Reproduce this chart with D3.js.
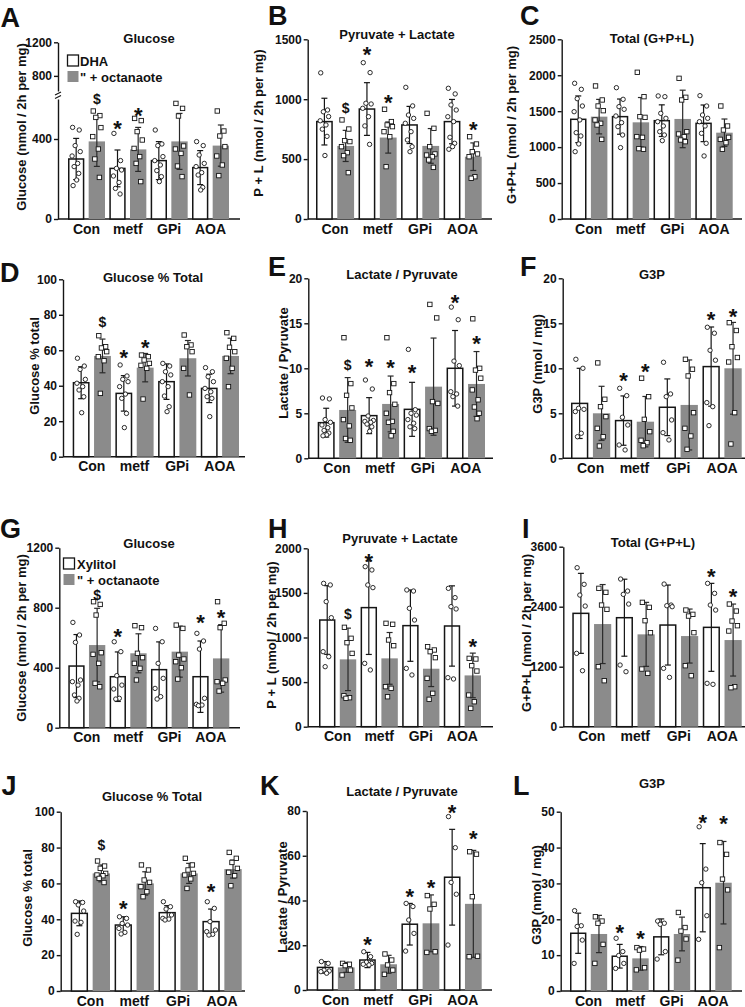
<!DOCTYPE html>
<html><head><meta charset="utf-8">
<script src="https://cdn.jsdelivr.net/npm/d3@7"></script>
<style>
body{margin:0;background:#fff;}
svg text{font-family:"Liberation Sans",Arial,sans-serif;font-weight:bold;fill:#111;}
.tick text{font-size:12px;}
</style></head><body>
<svg id="c" width="745" height="1007"></svg>
<script>
const categories = ["Con","metf","GPi","AOA"];
const legendA = ["DHA", "\" + octanaote"];
const legendG = ["Xylitol", "\" + octanaote"];

// ---- A: Glucose (DHA)
const A_ticks = [0,400,800,1200];
const A_wMean = [300,253,292,257], A_wSD = [103,92,95,85];
const A_gMean = [388,348,388,367], A_gSD = [125,110,140,103];
const A_wPts = [[458,445,367,337,315,278,262,228,195,167],[428,292,253,245,215,183,153,125],[445,375,367,312,292,270,242,212,187],[387,367,320,278,262,232,220,158,145]];
const A_gPts = [[540,517,508,457,412,350,300,208],[503,492,437,395,353,312,278,187],[578,553,515,365,350,328,265,212],[540,440,415,362,315,270,217]];
const A_marks = [["metf","w","*",473],["Con","g","$",600],["metf","g","*",540]];

// ---- B: Pyruvate + Lactate
const B_ticks = [0,500,1000,1500];
const B_wMean = [813,918,785,813], B_wSD = [195,220,155,185];
const B_gMean = [610,680,610,520], B_gSD = [130,130,145,115];
const B_wPts = [[1220,910,895,855,820,785,750,690,530],[1305,1222,966,960,924,854,777,623],[1099,944,868,840,799,729,660,604,562],[1091,1044,952,910,854,813,682,632,604,582]];
const B_gPts = [[827,751,654,646,604,554,529,387],[916,813,785,771,729,687,437],[882,757,604,543,534,520,493,431],[687,626,562,543,520,353,340]];
const B_marks = [["metf","w","*",1411],["Con","g","$",924],["metf","g","*",1007],["AOA","g","*",785]];

// ---- C: Total (G+P+L)
const C_ticks = [0,500,1000,1500,2000,2500];
const C_wMean = [1387,1424,1368,1331], C_wSD = [325,245,220,255];
const C_gMean = [1424,1345,1392,1201], C_gSD = [240,345,400,190];
const C_wPts = [[1888,1804,1674,1572,1493,1378,1201,1155,1044,937],[1827,1665,1563,1526,1433,1341,1285,1169,993],[1712,1702,1470,1401,1354,1294,1215,1169,1090],[1716,1572,1447,1401,1354,1294,1192,1053,877]];
const C_gPts = [[1851,1656,1572,1507,1378,1331,1308,1108],[2041,1702,1424,1414,1146,1136,979,970],[1957,1693,1656,1215,1183,1146,1099,1076],[1572,1294,1238,1136,1108,1062,970]];
const C_marks = [];

// ---- D: Glucose % Total
const D_ticks = [0,20,40,60,80,100];
const D_wMean = [41.7,35.7,42.3,38.5], D_wSD = [9,10,10,8];
const D_gMean = [56.8,50.2,55.5,56.8], D_gSD = [9.5,8,10,10];
const D_wPts = [[55.5,51.1,49.2,43.6,41.4,39.5,37.6,33.8,24.8],[51.7,45.5,43.6,42.3,39.5,35.3,32.9,24.4,16.4],[52.6,51.1,47.9,46.1,42.3,39.5,34.2,28.2,25.4],[50.2,47.9,45.1,42.3,38.5,36.6,33.8,32.9,22.6]];
const D_gPts = [[68.2,62.0,61.3,59.2,56.4,54.1,35.7],[57.3,56.4,54.5,52.6,51.5,49.8,32.5],[68.6,63.0,62.0,59.2,49.8,34.8],[69.9,66.7,61.7,59.2,55.5,49.8,39.5]];
const D_marks = [["metf","w","*",58.3],["Con","g","$",76.1],["metf","g","*",63.9]];

// ---- E: Lactate / Pyruvate
const E_ticks = [0,5,10,15,20];
const E_wMean = [3.96,4.74,5.44,10.0], E_wSD = [1.6,2.0,3.0,4.2];
const E_gMean = [5.37,6.04,7.96,8.26], E_gSD = [3.6,3.1,5.4,3.6];
const E_wPts = [[6.7,6.6,4.3,4.0,3.7,3.4,3.1,2.8,2.6,2.5],[8.7,7.7,4.7,4.2,4.1,4.0,3.8,3.5,3.0],[12.1,5.4,5.0,4.8,4.3,3.9,3.5,3.3],[16.8,15.4,10.8,10.3,7.4,7.15,6.85,5.8]];
const E_gPts = [[13.4,8.3,7.0,5.6,4.3,3.6,2.2,2.0],[13.4,8.3,7.3,6.0,5.0,4.1,4.0,3.0,2.5],[17.1,15.6,6.3,6.1,3.3,3.1,3.0],[15.5,10.0,9.8,8.9,7.6,6.5,5.7,5.0,4.4]];
const E_marks = [["metf","w","*",10.7],["GPi","w","*",10.0],["AOA","w","*",17.8],["Con","g","$",10.4],["metf","g","*",10.6],["AOA","g","*",13.3]];

// ---- F: G3P
const F_ticks = [0,5,10,15,20];
const F_wMean = [6.1,4.19,5.67,10.19], F_wSD = [3.9,2.74,3.15,4.4];
const F_gMean = [5.0,4.07,5.93,10.0], F_gSD = [3.0,2.8,5.0,5.1];
const F_wPts = [[11.0,10.0,5.56,5.44,5.19,2.78,2.4],[7.78,6.96,4.56,3.7,1.48,0.93],[10.67,7.15,6.85,4.26,2.85,2.04],[14.56,13.9,12.0,10.9,6.19,5.74,3.63]];
const F_gPts = [[10.6,6.56,5.74,4.63,3.33,2.4,1.37],[8.9,6.85,4.33,2.96,2.0,1.74,1.4],[11.0,9.9,9.15,5.07,3.33,2.48,1.0],[15.07,14.2,12.4,11.2,10.7,5.07,1.59]];
const F_marks = [["metf","w","*",9.1],["AOA","w","*",15.9],["metf","g","*",10.2],["AOA","g","*",16.3]];

// ---- G: Glucose (Xylitol)
const G_ticks = [0,400,800,1200];
const G_wMean = [411,340,387,340], G_wSD = [210,165,185,238];
const G_gMean = [551,496,507,462], G_gSD = [245,130,170,225];
const G_wPts = [[702,618,569,318,307,284,218,196,178],[573,507,347,284,258,196,191],[662,573,429,329,262,207,191],[629,578,524,196,156,151,147]];
const G_gPts = [[840,822,751,500,489,429,296,273],[680,667,496,467,429,396,318],[684,662,484,458,440,400,324],[840,696,667,318,307,296,244]];
const G_marks = [["metf","w","*",640],["AOA","w","*",729],["Con","g","$",885],["AOA","g","*",762]];

// ---- H: Pyruvate + Lactate
const H_ticks = [0,500,1000,1500,2000];
const H_wMean = [1196,1335,1133,1129], H_wSD = [385,525,400,450];
const H_gMean = [755,766,650,575], H_gSD = [350,290,200,250];
const H_wPts = [[1607,1589,1402,1222,841,785,673],[1794,1757,1589,1559,710,636],[1533,1521,1327,1196,654,580],[1551,1447,1346,1320,550,535]];
const H_gPts = [[1114,991,942,822,348,325,318],[1159,1148,972,908,449,430,336],[897,860,841,774,542,374,307],[766,759,684,624,355,280,206]];
const H_marks = [["metf","w","*",1907],["Con","g","$",1260],["AOA","g","*",953]];

// ---- I: Total (G+P+L)
const I_ticks = [0,1200,2400,3600];
const I_wMean = [2267,2180,2033,1987], I_wSD = [800,770,800,880];
const I_gMean = [2053,1847,1813,1733], I_gSD = [790,640,540,720];
const I_wPts = [[3180,2847,2633,2413,1467,1120],[2953,2713,2647,2453,1233,1100],[2853,2433,2420,2400,1167,987],[2867,2667,2433,2333,867,847]];
const I_gPts = [[2767,2687,2433,2347,1200,920],[2487,2387,2120,1880,1153,1067],[2333,2247,2213,1880,1220,1020],[2453,2313,2113,2020,1913,800,780]];
const I_marks = [["AOA","w","*",3100],["AOA","g","*",2687]];

// ---- J: Glucose % Total
const J_ticks = [0,20,40,60,80,100];
const J_wMean = [43.3,36.8,43.7,38.7], J_wSD = [6.9,4.6,3.9,7];
const J_gMean = [65.6,60.0,65.6,68.0], J_gSD = [4.7,6.5,5.6,5];
const J_wPts = [[49.8,49.4,48.0,44.6,39.0,38.3,31.6],[41.4,40.5,37.7,36.8,34.9,32.7,31.8],[49.8,47.0,45.7,42.4,40.5,40.1,39.6],[49.8,46.1,38.7,34.0,33.1,31.6,31.2]];
const J_gPts = [[72.5,69.7,68.4,65.6,64.7,64.3,62.8,60.5],[70.3,67.5,61.9,60.6,58.2,55.4,52.6],[74.0,70.3,67.5,65.6,64.7,62.5,57.2],[77.3,74.0,71.7,68.4,66.2,64.3,58.7]];
const J_marks = [["metf","w","*",48.5],["AOA","w","*",58.2],["Con","g","$",81.4]];

// ---- K: Lactate / Pyruvate
const K_ticks = [0,20,40,60,80];
const K_wMean = [10.1,13.4,29.4,50.4], K_wSD = [2.6,3.4,9.3,21.4];
const K_gMean = [10.1,11.5,29.8,38.5], K_gSD = [2.2,4.0,12.7,23.9];
const K_wPts = [[12.7,11.9,8.9,8.5,8.2,7.5],[17.1,14.9,12.4,11.9,11.5,11.2],[38.7,37.3,31.3,25.3,17.4],[77.5,63.6,48.1,42.8,20.1]];
const K_gPts = [[11.9,11.5,10.9,8.9,6.7],[16.1,13.4,11.2,8.9,7.0],[42.2,38.3,36.2,17.1,16.8],[61.8,60.7,41.7,15.1,14.9]];
const K_marks = [["metf","w","*",22.4],["GPi","w","*",43.7],["AOA","w","*",81.2],["GPi","g","*",47.7],["AOA","g","*",69.7]];

// ---- L: G3P
const L_ticks = [0,10,20,30,40,50];
const L_wMean = [16.1,9.7,15.1,28.8], L_wSD = [5.6,3.3,5,12.3];
const L_gMean = [15.9,9.1,15.9,30.2], L_gSD = [5.2,3.3,4.7,11.5];
const L_wPts = [[22.4,18.2,18.0,14.2,7.7],[14.7,11.0,9.9,7.7,6.3],[19.5,18.9,18.6,11.0,8.9],[45.8,34.0,30.2,21.0,14.4]];
const L_gPts = [[20.7,19.5,18.9,13.0,7.7],[12.1,11.7,11.4,6.5,5.9],[21.9,17.7,16.7,14.5,8.6],[41.4,38.1,31.2,28.2,12.1]];
const L_marks = [["metf","w","*",17.5],["AOA","w","*",48.3],["metf","g","*",15.8],["AOA","g","*",48.1]];

const titles = {A:"Glucose",B:"Pyruvate + Lactate",C:"Total (G+P+L)",D:"Glucose % Total",E:"Lactate / Pyruvate",F:"G3P",
  G:"Glucose",H:"Pyruvate + Lactate",I:"Total (G+P+L)",J:"Glucose % Total",K:"Lactate / Pyruvate",L:"G3P"};
const yLabels = {A:"Glucose (nmol / 2h per mg)",B:"P + L (nmol / 2h per mg)",C:"G+P+L (nmol / 2h per mg)",D:"Glucose % total",
  E:"Lactate / Pyruvate",F:"G3P (nmol / mg)",G:"Glucose (nmol / 2h per mg)",H:"P + L (nmol / 2h per mg)",I:"G+P+L (nmol / 2h per mg)",
  J:"Glucose % total",K:"Lactate / Pyruvate",L:"G3P (nmol / mg)"};

// ---------- layout (pixels) ----------
const layout = {
  A:{ax:58,axEnd:240,b0:68,b1:229,y0:219,brk:true,letter:[0.5,27],title:[149,43],ylab:[21.5,127]},
  B:{ax:307.7,axEnd:492,b0:316,b1:481.7,y0:219,yT:39.3,max:1500,letter:[268,24.5],title:[397,39],ylab:[258,123]},
  C:{ax:561.7,axEnd:742,b0:570,b1:732.7,y0:219,yT:39.3,max:2500,letter:[520,24.5],title:[652,43],ylab:[511,125]},
  D:{ax:63,axEnd:245,b0:72.7,b1:239,y0:456.7,yT:279.3,max:100,letter:[0,282],title:[153,281.5],ylab:[34,366]},
  E:{ax:308.3,axEnd:493,b0:317.7,b1:485,y0:458.3,yT:278.3,max:20,letter:[268,276],title:[402,279],ylab:[283,363]},
  F:{ax:562.7,axEnd:745,b0:571,b1:741.7,y0:458.3,yT:278.3,max:20,letter:[520,276],title:[652,279],ylab:[537,364]},
  G:{ax:59.3,axEnd:240,b0:68.3,b1:229.3,y0:727.7,yT:547.7,max:1200,letter:[0,538],title:[149,547.5],ylab:[21,638]},
  H:{ax:307.7,axEnd:493,b0:319,b1:481,y0:726.7,yT:548.3,max:2000,letter:[268,538],title:[400,542.5],ylab:[271.5,635]},
  I:{ax:563.3,axEnd:745,b0:572.3,b1:741.7,y0:726.7,yT:546.7,max:3600,letter:[522,538],title:[653,547],ylab:[526,633]},
  J:{ax:60.7,axEnd:245,b0:70.7,b1:241.7,y0:991,yT:811.7,max:100,letter:[1.5,795],title:[152,800.5],ylab:[27.5,898]},
  K:{ax:306.7,axEnd:492,b0:316.7,b1:481.7,y0:990,yT:811,max:80,letter:[260,795],title:[402,796],ylab:[282.5,897]},
  L:{ax:560.7,axEnd:742,b0:570,b1:731.7,y0:991,yT:811.7,max:50,letter:[513,795],title:[652,787.5],ylab:[536.5,895]}
};

const panelData = {
  A:[A_ticks,A_wMean,A_wSD,A_gMean,A_gSD,A_wPts,A_gPts,A_marks],
  B:[B_ticks,B_wMean,B_wSD,B_gMean,B_gSD,B_wPts,B_gPts,B_marks],
  C:[C_ticks,C_wMean,C_wSD,C_gMean,C_gSD,C_wPts,C_gPts,C_marks],
  D:[D_ticks,D_wMean,D_wSD,D_gMean,D_gSD,D_wPts,D_gPts,D_marks],
  E:[E_ticks,E_wMean,E_wSD,E_gMean,E_gSD,E_wPts,E_gPts,E_marks],
  F:[F_ticks,F_wMean,F_wSD,F_gMean,F_gSD,F_wPts,F_gPts,F_marks],
  G:[G_ticks,G_wMean,G_wSD,G_gMean,G_gSD,G_wPts,G_gPts,G_marks],
  H:[H_ticks,H_wMean,H_wSD,H_gMean,H_gSD,H_wPts,H_gPts,H_marks],
  I:[I_ticks,I_wMean,I_wSD,I_gMean,I_gSD,I_wPts,I_gPts,I_marks],
  J:[J_ticks,J_wMean,J_wSD,J_gMean,J_gSD,J_wPts,J_gPts,J_marks],
  K:[K_ticks,K_wMean,K_wSD,K_gMean,K_gSD,K_wPts,K_gPts,K_marks],
  L:[L_ticks,L_wMean,L_wSD,L_gMean,L_gSD,L_wPts,L_gPts,L_marks]
};

const JIT = [-3.5, 3, -1, 4, -4, 1.5, -2, 2.5, 0.5, -3];
const GRAY = "#8b8b8b", INK = "#151515";
const fmt = d3.format("d");
const svg = d3.select("#c");

function styleAxis(sel){
  sel.attr("font-family",null).attr("font-size",null);
  sel.selectAll("path.domain").attr("stroke",INK).attr("stroke-width",1.4);
  sel.selectAll(".tick line").attr("stroke",INK).attr("stroke-width",1.4);
  sel.selectAll(".tick text").attr("fill",INK);
}

function drawPanel(key){
  const Lo = layout[key];
  const [ticks,wMean,wSD,gMean,gSD,wPts,gPts,marks] = panelData[key];
  const g = svg.append("g");
  let y;
  if (Lo.brk){
    const lo = d3.scaleLinear().domain([0,600]).range([Lo.y0,99]);
    const hi = d3.scaleLinear().domain([620,1200]).range([91,42.3]);
    y = v => v <= 610 ? lo(v) : hi(v);
    const a1 = g.append("g").attr("transform",`translate(${Lo.ax},0)`)
      .call(d3.axisLeft(lo).tickValues(ticks.filter(t=>t<=600)).tickFormat(fmt).tickSize(4).tickSizeOuter(0).tickPadding(2));
    const a2 = g.append("g").attr("transform",`translate(${Lo.ax},0)`)
      .call(d3.axisLeft(hi).tickValues(ticks.filter(t=>t>600)).tickFormat(fmt).tickSize(4).tickSizeOuter(0).tickPadding(2));
    styleAxis(a1); styleAxis(a2);
    [0,3.5].forEach(d=>{
      g.append("line").attr("x1",Lo.ax-3).attr("x2",Lo.ax+3).attr("y1",95+d).attr("y2",92+d)
        .attr("stroke",INK).attr("stroke-width",1.2);
    });
  } else {
    y = d3.scaleLinear().domain([0,Lo.max]).range([Lo.y0,Lo.yT]);
    const a = g.append("g").attr("transform",`translate(${Lo.ax},0)`)
      .call(d3.axisLeft(y).tickValues(ticks).tickFormat(fmt).tickSize(4).tickSizeOuter(0).tickPadding(2));
    styleAxis(a);
  }
  g.append("line").attr("x1",Lo.ax).attr("x2",Lo.axEnd).attr("y1",Lo.y0).attr("y2",Lo.y0)
    .attr("stroke",INK).attr("stroke-width",1.5);

  const gw = (Lo.b1-Lo.b0)/3.895;
  const x = d3.scaleBand().domain(categories).range([Lo.b0, Lo.b0+4*gw]).padding(0);
  const bw = gw*0.395;
  const xs = (c,side) => x(c) + (side==="w" ? 0 : 0.5*gw);

  const rows = categories.map((c,i)=>({c,i}));
  g.selectAll(".wb").data(rows).join("rect")
    .attr("x",d=>xs(d.c,"w")+0.75).attr("y",d=>y(wMean[d.i]))
    .attr("width",bw-1.5).attr("height",d=>Lo.y0-y(wMean[d.i]))
    .attr("fill","#fff").attr("stroke",INK).attr("stroke-width",1.5);
  g.selectAll(".gb").data(rows).join("rect")
    .attr("x",d=>xs(d.c,"g")).attr("y",d=>y(gMean[d.i]))
    .attr("width",bw).attr("height",d=>Lo.y0-y(gMean[d.i]))
    .attr("fill",GRAY);
  [["w",wMean,wSD,INK],["g",gMean,gSD,"#2a2a2a"]].forEach(([side,m,s,col])=>{
    rows.forEach(d=>{
      const cx = xs(d.c,side)+bw/2;
      const yt = y(m[d.i]+s[d.i]), yb = y(Math.max(0,m[d.i]-s[d.i]));
      g.append("line").attr("x1",cx).attr("x2",cx).attr("y1",yt).attr("y2",yb).attr("stroke",col).attr("stroke-width",1.2);
      [yt,yb].forEach(yy=>g.append("line").attr("x1",cx-3).attr("x2",cx+3).attr("y1",yy).attr("y2",yy).attr("stroke",col).attr("stroke-width",1.2));
    });
  });
  const k = bw/16;
  rows.forEach(d=>{
    const cxw = xs(d.c,"w")+bw/2;
    g.selectAll(null).data(wPts[d.i]).join("circle")
      .attr("cx",(v,j)=>cxw+JIT[j%JIT.length]*k).attr("cy",v=>y(v)).attr("r",2.2)
      .attr("fill","#fff").attr("stroke",INK).attr("stroke-width",0.9);
    const cxg = xs(d.c,"g")+bw/2;
    g.selectAll(null).data(gPts[d.i]).join("rect")
      .attr("x",(v,j)=>cxg+JIT[j%JIT.length]*k-2.2).attr("y",v=>y(v)-2.2).attr("width",4.4).attr("height",4.4)
      .attr("fill","#fff").attr("stroke",INK).attr("stroke-width",0.9);
  });
  marks.forEach(([c,side,sym,v])=>{
    const cx = xs(c,side)+bw/2;
    const yc = y(v);
    g.append("text").attr("x",cx).attr("y", sym==="*" ? yc+12 : yc+5)
      .attr("text-anchor","middle").style("font-size", sym==="*" ? "22px" : "14px").text(sym);
  });
  g.selectAll(".cl").data(categories).join("text")
    .attr("x",c=>x(c)+0.4475*gw).attr("y",Lo.y0+14.5).attr("text-anchor","middle")
    .style("font-size","14px").text(c=>c);
  g.append("text").attr("x",Lo.title[0]).attr("y",Lo.title[1]).attr("text-anchor","middle")
    .style("font-size","13px").text(titles[key]);
  g.append("text").attr("transform",`translate(${Lo.ylab[0]},${Lo.ylab[1]}) rotate(-90)`)
    .attr("text-anchor","middle").attr("dy","0.35em").style("font-size","13px").text(yLabels[key]);
  g.append("text").attr("x",Lo.letter[0]).attr("y",Lo.letter[1]).style("font-size","27px").text(key);
}

Object.keys(layout).forEach(drawPanel);

function legend(lbls, bx, by, tx){
  const g = svg.append("g");
  g.append("rect").attr("x",bx).attr("y",by).attr("width",11).attr("height",11).attr("fill","#fff").attr("stroke",INK).attr("stroke-width",1.3);
  g.append("rect").attr("x",bx).attr("y",by+16).attr("width",11).attr("height",11).attr("fill",GRAY);
  g.append("text").attr("x",tx).attr("y",by+10.5).style("font-size","13px").text(lbls[0]);
  g.append("text").attr("x",tx).attr("y",by+26.5).style("font-size","13px").text(lbls[1]);
}
legend(legendA, 67.5, 55, 80);
legend(legendG, 63.5, 558, 77);
</script>
</body></html>
